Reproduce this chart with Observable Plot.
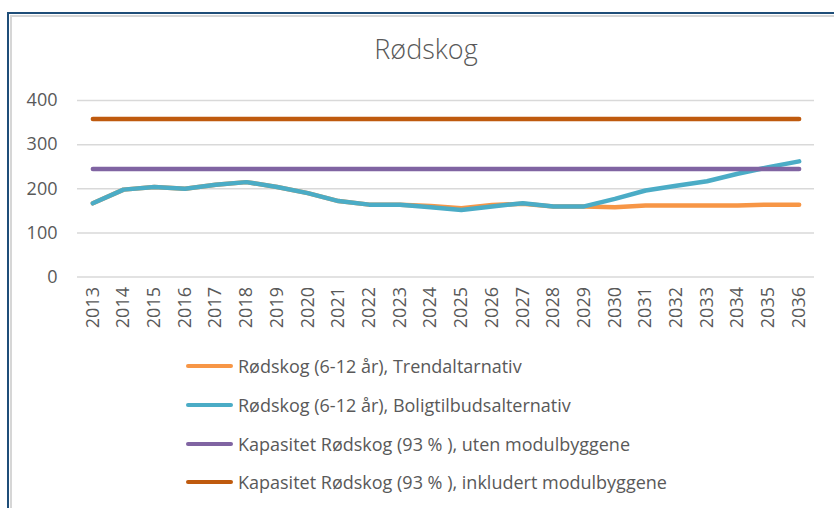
<!DOCTYPE html>
<html>
<head>
<meta charset="utf-8">
<script src="https://cdn.jsdelivr.net/npm/d3@7"></script>
<script src="https://cdn.jsdelivr.net/npm/@observablehq/plot@0.6"></script>
<style>
  html, body { margin: 0; padding: 0; background: #fff; }
  #wrap { position: relative; width: 834px; height: 508px; overflow: hidden; font-family: "Open Sans", sans-serif; }
  #frame { position: absolute; left: 7px; top: 12px; width: 900px; height: 600px;
           border-left: 2.5px solid #1F4E79; border-top: 2.5px solid #1F4E79; box-sizing: border-box; }
  #frame2 { position: absolute; left: 9.5px; top: 14.5px; width: 900px; height: 600px;
           border-left: 2px solid #d6d6d6; border-top: 2px solid #d6d6d6; box-sizing: border-box; }
  #title { position: absolute; left: 0; width: 852px; top: 30px; text-align: center;
           font-size: 27px; color: #595959; font-weight: 300; }
  #chart { position: absolute; left: 0; top: 0; }
  #legend { position: absolute; left: 186px; top: 347px; }
  .row { display: flex; align-items: center; height: 38.7px; font-size: 18px; color: #595959; white-space: nowrap; }
  .sw { width: 47px; height: 4px; border-radius: 2px; margin-right: 5px; flex: none; }
</style>
</head>
<body>
<div id="wrap">
  <div id="frame"></div>
  <div id="frame2"></div>
  <div id="chart"></div>
  <div id="title">Rødskog</div>
  <div id="legend"></div>
</div>
<script>
const years = ["2013","2014","2015","2016","2017","2018","2019","2020","2021","2022","2023","2024",
               "2025","2026","2027","2028","2029","2030","2031","2032","2033","2034","2035","2036"];
const trend = [167,198,204,200,209,215,204,190,172,164,164,161,156,163,166,160,160,158,162,162,162,162,164,164];
const bolig = [167,198,204,200,209,215,204,190,172,164,164,158,152,160,167,160,160,177,196,207,217,234,249,262];
const kapUten = [245,245,245,245,245,245,245,245,245,245,245,245,245,245,245,245,245,245,245,245,245,245,245,245];
const kapInkl = [358,358,358,358,358,358,358,358,358,358,358,358,358,358,358,358,358,358,358,358,358,358,358,358];
const yTicks = [0,100,200,300,400];
const seriesNames = [
  "Rødskog (6-12 år), Trendaltarnativ",
  "Rødskog (6-12 år), Boligtilbudsalternativ",
  "Kapasitet Rødskog (93 % ), uten modulbyggene",
  "Kapasitet Rødskog (93 % ), inkludert modulbyggene"
];
const seriesColors = ["#F79646", "#4BACC6", "#8064A2", "#BF5A0E"];
const seriesValues = [trend, bolig, kapUten, kapInkl];

const rows = [];
seriesValues.forEach((vals, s) => {
  vals.forEach((v, i) => rows.push({series: seriesNames[s], year: years[i], value: v}));
});

const chart = Plot.plot({
  width: 834,
  height: 345,
  marginTop: 100,
  marginBottom: 68.5,
  marginLeft: 77,
  marginRight: 20,
  style: { fontFamily: "Open Sans, sans-serif", color: "#595959", background: "transparent" },
  x: { type: "point", domain: years, padding: 0.5, align: 0.5, round: false },
  y: { domain: [0, 400], ticks: yTicks },
  color: { domain: seriesNames, range: seriesColors },
  marks: [
    Plot.ruleY(yTicks, { stroke: "#d9d9d9", strokeWidth: 1.5 }),
    Plot.axisY({ ticks: yTicks, tickSize: 0, tickPadding: 20, label: null, fontSize: 18, fill: "#595959" }),
    Plot.axisX({ tickSize: 0, tickPadding: 10, tickRotate: -90, label: null, fontSize: 18, fill: "#595959" }),
    Plot.line(rows, { x: "year", y: "value", z: "series", stroke: "series",
                      strokeWidth: 4.5, strokeLinecap: "round", strokeLinejoin: "round" })
  ]
});
document.getElementById("chart").appendChild(chart);

const legend = document.getElementById("legend");
seriesNames.forEach((name, i) => {
  const row = document.createElement("div");
  row.className = "row";
  const sw = document.createElement("span");
  sw.className = "sw";
  sw.style.background = seriesColors[i];
  const t = document.createElement("span");
  t.textContent = name;
  row.appendChild(sw);
  row.appendChild(t);
  legend.appendChild(row);
});
</script>
</body>
</html>
